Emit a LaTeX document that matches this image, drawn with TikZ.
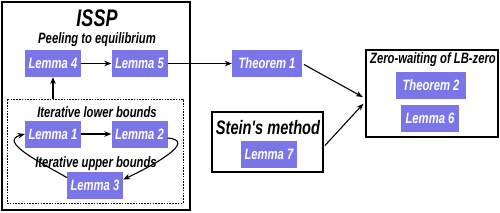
\documentclass[tikz,border=0pt]{standalone}
\usepackage{fontspec}
\usepackage{tikz}
\usetikzlibrary{positioning, arrows.meta, calc}
\newfontfamily\lblfont{Liberation Sans}[FakeStretch=0.75]
\definecolor{LemBlue}{RGB}{123,118,232}
\newcommand{\lbl}[1][15]{\lblfont\bfseries\itshape\fontsize{#1}{#1}\selectfont}

\begin{document}
\begin{tikzpicture}[x=1pt, y=-1pt,
            lem/.style={rectangle, fill=LemBlue, text=white, inner sep=0pt,
                        minimum width=56pt, minimum height=27pt, font=\lbl},
            thm/.style={lem, minimum width=70pt},
            frame/.style={rectangle, draw=black, line width=1.2pt, inner sep=0pt},
            dashframe/.style={rectangle, draw=black, line width=0.9pt,
                        dash pattern=on 1.6pt off 1.2pt, inner sep=0pt},
            ttl/.style={font=\lbl, inner sep=0pt},
            arr/.style={-{Stealth[length=7pt, width=5.5pt]}, black, line width=1.1pt}
          ]
          \useasboundingbox (0,0) rectangle (500,212);
          % group frames
          \node[frame, minimum width=188pt, minimum height=208pt] (issp) at (96,106) {};
          \node[dashframe, minimum width=176pt, minimum height=104pt] (iter) at (95,151) {};
          \node[frame, minimum width=111pt, minimum height=60pt] (stein) at (267.5,142) {};
          \node[frame, minimum width=132pt, minimum height=87pt] (zero) at (432,93.5) {};

          % titles
          \node[ttl, font={\lbl[24]}]   (isspT)  at (97,18)   {ISSP};
          \node[ttl]                    (peelT)  at (97,40)   {Peeling to equilibrium};
          \node[ttl]                    (lowT)   at (97,112)  {Iterative lower bounds};
          \node[ttl]                    (upT)    at (96,164)  {Iterative upper bounds};
          \node[ttl, font={\lbl[19.5]}] (steinT) at (268,128) {Stein's method};
          \node[ttl]                    (zeroT)  at (433,60)  {Zero-waiting of LB-zero};

          % results
          \node[lem]  (l4) at (53,63.5)  {Lemma 4};
          \node[lem]  (l5) at (139.5,63.5) {Lemma 5};
          \node[thm]  (t1) at (267,63.5) {Theorem 1};
          \node[lem]  (l1) at (53,134)   {Lemma 1};
          \node[lem]  (l2) at (139.5,134) {Lemma 2};
          \node[lem]  (l3) at (95,185.5) {Lemma 3};
          \node[lem]  (l7) at (269,154.5) {Lemma 7};
          \node[thm]  (t2) at (431,85)   {Theorem 2};
          \node[lem, minimum width=58pt] (l6) at (430,118.5) {Lemma 6};

          \draw[arr] (l4) -- (l5);
          \draw[arr] (l5) -- (t1);
          \draw[arr] (l1) -- (l2);
          \draw[arr] (iter.north -| l4) -- (l4.south);
          \draw[arr] ([yshift=-4pt]l2.east) to[out=-5, in=25, looseness=1.3] ([yshift=6pt]l3.east);
          \draw[arr] ([yshift=8pt]l3.west) to[out=150, in=195, looseness=1.2] (l1.west);
          \draw[arr, shorten <=2pt, shorten >=3pt] (t1.east) -- ([yshift=-5pt]zero.west);
          \draw[arr, shorten <=2pt, shorten >=3pt] ([yshift=-5pt]stein.east) -- ([yshift=-8pt]zero.west);
        \end{tikzpicture}
\end{document}
